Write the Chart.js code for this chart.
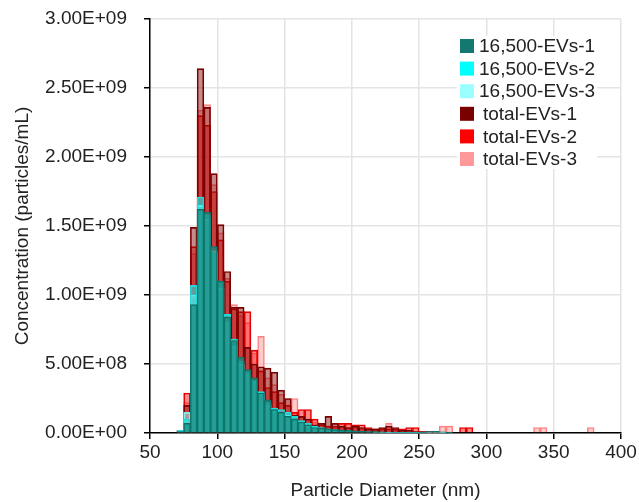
<!DOCTYPE html>
<html>
<head>
<meta charset="utf-8">
<script src="https://cdn.jsdelivr.net/npm/chart.js@4.4.1/dist/chart.umd.min.js"></script>
<style>
  html, body { margin: 0; padding: 0; background: #fff; }
  #wrap { width: 639px; height: 502px; position: relative; }
</style>
</head>
<body>
<div id="wrap"><canvas id="nta"></canvas></div>
<script>
// bin centres (nm), 5 nm bins
const diameters = [
  72.5, 77.5, 82.5, 87.5, 92.5, 97.5, 102.5, 107.5, 112.5, 117.5,
  122.5, 127.5, 132.5, 137.5, 142.5, 147.5, 152.5, 157.5, 162.5, 167.5,
  172.5, 177.5, 182.5, 187.5, 192.5, 197.5, 202.5, 207.5, 212.5, 217.5,
  222.5, 227.5, 232.5, 237.5, 242.5, 247.5, 252.5, 257.5, 262.5, 267.5,
  272.5, 277.5, 282.5, 287.5, 292.5, 297.5, 302.5, 307.5, 312.5, 317.5,
  322.5, 327.5, 332.5, 337.5, 342.5, 347.5, 352.5, 357.5, 362.5, 367.5,
  372.5, 377.5
];

// concentration (particles/mL)
const ev16500_1 = [
  0.01e9, 0.07e9, 0.93e9, 1.62e9, 1.60e9, 1.35e9, 1.10e9, 0.84e9, 0.67e9, 0.55e9,
  0.46e9, 0.40e9, 0.29e9, 0.24e9, 0.17e9, 0.15e9, 0.12e9, 0.10e9, 0.08e9, 0.06e9,
  0.04e9, 0.035e9, 0.03e9, 0.025e9, 0.02e9, 0.02e9, 0.015e9, 0.012e9, 0.01e9, 0.01e9,
  0.008e9, 0.006e9, 0.005e9, 0.005e9, 0.004e9, 0.004e9, 0.003e9, 0.01e9, 0.012e9, 0.008e9,
  0.003e9, 0, 0, 0, 0, 0, 0, 0, 0, 0,
  0, 0, 0, 0, 0, 0, 0, 0, 0, 0,
  0, 0
];
const ev16500_2 = [
  0.02e9, 0.10e9, 1.07e9, 1.71e9, 1.58e9, 1.30e9, 1.10e9, 0.86e9, 0.68e9, 0.52e9,
  0.44e9, 0.38e9, 0.30e9, 0.22e9, 0.18e9, 0.17e9, 0.15e9, 0.12e9, 0.09e9, 0.07e9,
  0.05e9, 0.04e9, 0.03e9, 0.025e9, 0.02e9, 0.015e9, 0.012e9, 0.01e9, 0.008e9, 0.006e9,
  0.005e9, 0.004e9, 0.004e9, 0.003e9, 0.003e9, 0.002e9, 0.002e9, 0.006e9, 0.008e9, 0.004e9,
  0, 0, 0, 0, 0, 0, 0, 0, 0, 0,
  0, 0, 0, 0, 0, 0, 0, 0, 0, 0,
  0, 0
];
const ev16500_3 = [
  0.015e9, 0.15e9, 1.00e9, 1.65e9, 1.55e9, 1.32e9, 1.05e9, 0.80e9, 0.63e9, 0.50e9,
  0.42e9, 0.37e9, 0.28e9, 0.20e9, 0.16e9, 0.14e9, 0.13e9, 0.10e9, 0.07e9, 0.05e9,
  0.04e9, 0.03e9, 0.025e9, 0.02e9, 0.015e9, 0.012e9, 0.01e9, 0.008e9, 0.006e9, 0.005e9,
  0.004e9, 0.003e9, 0.003e9, 0.002e9, 0.002e9, 0.002e9, 0.001e9, 0.004e9, 0.005e9, 0.003e9,
  0, 0, 0, 0, 0, 0, 0, 0, 0, 0,
  0, 0, 0, 0, 0, 0, 0, 0, 0, 0,
  0, 0
];
const total_1 = [
  0.01e9, 0.20e9, 1.49e9, 2.64e9, 2.36e9, 1.88e9, 1.51e9, 1.17e9, 0.91e9, 0.91e9,
  0.62e9, 0.50e9, 0.48e9, 0.47e9, 0.44e9, 0.31e9, 0.25e9, 0.13e9, 0.12e9, 0.10e9,
  0.06e9, 0.07e9, 0.12e9, 0.07e9, 0.05e9, 0.04e9, 0.05e9, 0.04e9, 0.03e9, 0.03e9,
  0.04e9, 0.05e9, 0.04e9, 0.02e9, 0.02e9, 0.01e9, 0.01e9, 0.01e9, 0.005e9, 0.005e9,
  0, 0, 0, 0, 0, 0, 0, 0, 0, 0,
  0, 0, 0, 0, 0, 0, 0, 0, 0, 0,
  0, 0
];
const total_2 = [
  0.02e9, 0.29e9, 1.35e9, 2.30e9, 2.23e9, 1.75e9, 1.40e9, 1.10e9, 0.90e9, 0.88e9,
  0.88e9, 0.60e9, 0.45e9, 0.33e9, 0.30e9, 0.22e9, 0.20e9, 0.15e9, 0.17e9, 0.17e9,
  0.10e9, 0.06e9, 0.05e9, 0.05e9, 0.07e9, 0.07e9, 0.06e9, 0.06e9, 0.04e9, 0.03e9,
  0.03e9, 0.03e9, 0.03e9, 0.03e9, 0.04e9, 0.04e9, 0.01e9, 0.01e9, 0.005e9, 0.005e9,
  0, 0, 0.04e9, 0.04e9, 0, 0, 0, 0, 0, 0,
  0, 0, 0, 0, 0, 0, 0, 0, 0, 0,
  0, 0
];
const total_3 = [
  0.01e9, 0.22e9, 1.30e9, 2.34e9, 2.38e9, 1.80e9, 1.45e9, 1.12e9, 0.93e9, 0.85e9,
  0.80e9, 0.58e9, 0.70e9, 0.40e9, 0.35e9, 0.28e9, 0.25e9, 0.25e9, 0.12e9, 0.10e9,
  0.08e9, 0.06e9, 0.05e9, 0.04e9, 0.04e9, 0.04e9, 0.04e9, 0.03e9, 0.03e9, 0.02e9,
  0.03e9, 0.07e9, 0.02e9, 0.01e9, 0.01e9, 0.01e9, 0.005e9, 0.005e9, 0.005e9, 0.05e9,
  0.05e9, 0, 0, 0, 0, 0, 0, 0, 0, 0,
  0, 0, 0, 0.04e9, 0.04e9, 0, 0, 0, 0, 0,
  0, 0.04e9
];

const seriesNames = ['16,500-EVs-1', '16,500-EVs-2', '16,500-EVs-3', 'total-EVs-1', 'total-EVs-2', 'total-EVs-3'];
const seriesValues = [ev16500_1, ev16500_2, ev16500_3, total_1, total_2, total_3];
const legendColors = ['#137870', '#00ffff', '#99ffff', '#7a0000', '#ff0000', '#ff9999'];
const fillColors = [
  'rgba(20, 140, 128, 0.72)',
  'rgba(0, 255, 255, 0.5)',
  'rgba(153, 255, 255, 0.5)',
  'rgba(128, 0, 0, 0.45)',
  'rgba(255, 0, 0, 0.45)',
  'rgba(255, 153, 153, 0.5)'
];
const lineColors = ['#0e6f66', '#22d8d8', '#80e8e8', '#7a0000', '#e00000', '#ff8080'];

const yTicks = [0, 0.5e9, 1e9, 1.5e9, 2e9, 2.5e9, 3e9];
const xTicks = [50, 100, 150, 200, 250, 300, 350, 400];

const FONT = "'Liberation Sans', Arial, sans-serif";

function sciLabel(v) {
  const parts = Number(v).toExponential(2).split('e');
  let exp = parseInt(parts[1], 10);
  const sign = exp < 0 ? '-' : '+';
  return parts[0] + 'E' + sign + String(Math.abs(exp)).padStart(2, '0');
}

const datasets = seriesNames.map((name, i) => ({
  label: name,
  data: diameters.map((d, j) => ({ x: d, y: seriesValues[i][j] })),
  backgroundColor: fillColors[i],
  borderColor: lineColors[i],
  borderWidth: 1,
  borderSkipped: 'start',
  barPercentage: 1,
  categoryPercentage: 1,
  grouped: false
}));

// legend drawn in the top-right of the plot with a white box behind it
const insideLegend = {
  id: 'insideLegend',
  afterDraw(chart) {
    const ctx = chart.ctx;
    ctx.save();
    ctx.fillStyle = '#fff';
    ctx.fillRect(457, 36, 140, 133);
    ctx.font = '19px ' + FONT;
    ctx.textBaseline = 'middle';
    ctx.textAlign = 'left';
    seriesNames.forEach((name, i) => {
      const cy = 46 + i * 22.6;
      ctx.fillStyle = legendColors[i];
      ctx.fillRect(460, cy - 7, 14, 14);
      ctx.fillStyle = '#222';
      ctx.fillText(name, i < 3 ? 479 : 483, cy + 1);
    });
    ctx.restore();
  }
};

new Chart(document.getElementById('nta'), {
  type: 'bar',
  data: { datasets: datasets },
  plugins: [insideLegend],
  options: {
    responsive: true,
    maintainAspectRatio: false,
    animation: false,
    layout: { padding: { left: 0, right: 18, top: 19, bottom: 0 } },
    plugins: {
      legend: { display: false },
      tooltip: { enabled: false }
    },
    scales: {
      x: {
        type: 'linear',
        offset: false,
        min: 50,
        max: 400,
        afterBuildTicks: (scale) => { scale.ticks = xTicks.map(v => ({ value: v })); },
        afterFit: (scale) => { scale.height = 69; scale.paddingLeft = 0; scale.paddingRight = 0; },
        grid: { color: '#e4e4e4', tickColor: '#000', tickLength: 6, offset: false, lineWidth: 1.5 },
        border: { color: '#000', width: 1.5 },
        ticks: { color: '#222', font: { family: FONT, size: 19 }, padding: 2, maxRotation: 0 },
        title: { display: true, text: 'Particle Diameter (nm)', color: '#222', font: { family: FONT, size: 19 }, padding: { top: 4, bottom: 0 } }
      },
      y: {
        min: 0,
        max: 3e9,
        afterBuildTicks: (scale) => { scale.ticks = yTicks.map(v => ({ value: v })); },
        afterFit: (scale) => { scale.width = 150; scale.paddingTop = 0; scale.paddingBottom = 0; },
        grid: { color: '#e4e4e4', tickColor: '#000', tickLength: 6, lineWidth: 1.5 },
        border: { color: '#000', width: 1.5 },
        ticks: { color: '#222', font: { family: FONT, size: 19 }, padding: 17, callback: (v) => sciLabel(v) },
        title: { display: true, text: 'Concentration (particles/mL)', color: '#222', font: { family: FONT, size: 19 }, padding: { top: 11, bottom: 0 } }
      }
    }
  }
});
</script>
</body>
</html>
